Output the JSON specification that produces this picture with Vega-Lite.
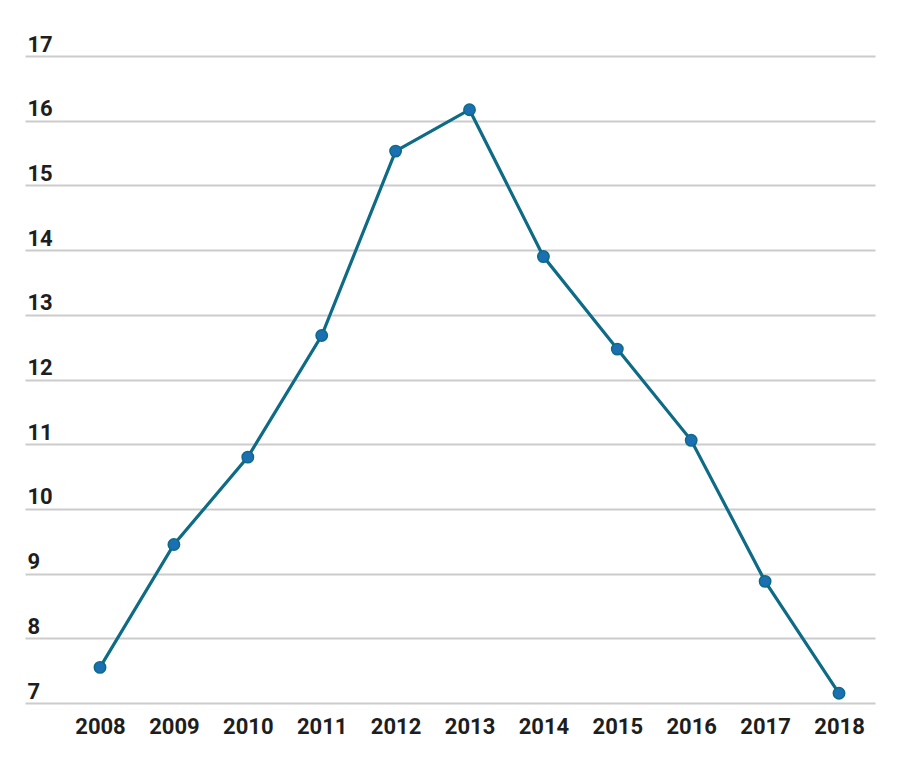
{
  "$schema": "https://vega.github.io/schema/vega-lite/v6.json",
  "autosize": "none",
  "width": 850,
  "height": 647,
  "padding": {"left": 25, "top": 56, "right": 25, "bottom": 70},
  "background": "white",
  "config": {"view": {"stroke": null}},
  "data": {"values": [
    {"year": 2008, "value": 7.55},
    {"year": 2009, "value": 9.45},
    {"year": 2010, "value": 10.8},
    {"year": 2011, "value": 12.68},
    {"year": 2012, "value": 15.53},
    {"year": 2013, "value": 16.17},
    {"year": 2014, "value": 13.9},
    {"year": 2015, "value": 12.47},
    {"year": 2016, "value": 11.06},
    {"year": 2017, "value": 8.88},
    {"year": 2018, "value": 7.15}
  ]},
  "encoding": {
    "x": {"field": "year", "type": "quantitative",
      "scale": {"domain": [2006.985, 2018.487], "nice": false, "zero": false},
      "axis": {"title": null, "values": [2008,2009,2010,2011,2012,2013,2014,2015,2016,2017,2018], "format": "d",
        "grid": false, "domain": false, "ticks": false, "tickSize": 0,
        "labelFont": "Roboto", "labelFontWeight": "bold", "labelFontSize": 22, "labelColor": "#1e1e1e",
        "labelBaseline": "alphabetic", "labelPadding": 30, "labelOverlap": false, "labelFlush": false}},
    "y": {"field": "value", "type": "quantitative",
      "scale": {"domain": [7, 17], "nice": false, "zero": false},
      "axis": {"title": null, "values": [7,8,9,10,11,12,13,14,15,16,17],
        "grid": true, "gridColor": "#cccccc", "gridWidth": 2, "gridOpacity": 1,
        "domain": false, "ticks": false, "tickSize": 0,
        "labelFont": "Roboto", "labelFontWeight": "bold", "labelFontSize": 22, "labelColor": "#1e1e1e",
        "labelAlign": "left", "labelBaseline": "alphabetic", "labelOffset": -5, "labelPadding": -2,
        "labelOverlap": false, "labelFlush": false}}
  },
  "layer": [
    {"mark": {"type": "line", "color": "#0d6b86", "strokeWidth": 3.2}},
    {"mark": {"type": "point", "filled": true, "fill": "#1b6fb3", "stroke": "#0d6b86", "strokeWidth": 1.5, "size": 130, "opacity": 1}}
  ]
}
